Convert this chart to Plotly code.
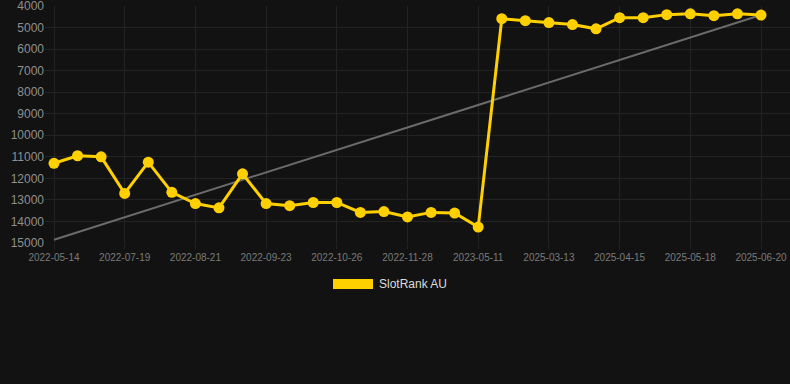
import plotly.graph_objects as go

# ---- data ----
tick_labels = ["2022-05-14", "2022-07-19", "2022-08-21", "2022-09-23", "2022-10-26",
               "2022-11-28", "2023-05-11", "2025-03-13", "2025-04-15", "2025-05-18", "2025-06-20"]
rank_values = [11300, 10950, 11000, 12700, 11250, 12650, 13170, 13370, 11790, 13170,
               13270, 13120, 13120, 13580, 13540, 13790, 13580, 13610, 14260, 4590,
               4680, 4770, 4860, 5060, 4540, 4540, 4400, 4360, 4450, 4360, 4420]
trend_values = [14850, 4420]
y_ticks = [4000, 5000, 6000, 7000, 8000, 9000, 10000, 11000, 12000, 13000, 14000, 15000]
series_name = "SlotRank AU"

x_idx = list(range(len(rank_values)))
tick_idx = x_idx[::3]
trend_x = [x_idx[0], x_idx[-1]]

BG = "#121212"
GRID = "#232323"
GOLD = "#FFD000"

fig = go.Figure()
fig.add_trace(go.Scatter(x=trend_x, y=trend_values, mode="lines",
                         line=dict(color="#6b6b6b", width=2), hoverinfo="skip",
                         showlegend=False))
fig.add_trace(go.Scatter(x=x_idx, y=rank_values, mode="lines+markers", name=series_name,
                         line=dict(color=GOLD, width=3),
                         marker=dict(color=GOLD, size=11), showlegend=False))

# legend (manual, chart-style swatch)
fig.add_shape(type="rect", xref="paper", yref="paper",
              x0=0.3866, x1=0.4403, y0=-0.1519, y1=-0.1941,
              fillcolor=GOLD, line=dict(width=0))
fig.add_annotation(xref="paper", yref="paper", x=0.4456, y=-0.173,
                   text=series_name, showarrow=False, xanchor="left", yanchor="middle",
                   font=dict(size=12, color="#dddddd"))

fig.update_layout(
    width=790, height=384,
    margin=dict(l=45, r=0, t=6, b=141),
    paper_bgcolor=BG, plot_bgcolor=BG,
    font=dict(family="Liberation Sans, Arial, sans-serif"),
    xaxis=dict(range=[-0.382, 31.23], tickmode="array", tickvals=tick_idx, ticktext=tick_labels,
               showgrid=True, gridcolor=GRID, gridwidth=1, zeroline=False, showline=False,
               ticks="outside", ticklen=5, tickcolor=GRID, ticklabeloverflow="allow",
               tickfont=dict(size=10, color="#7a7a7a")),
    yaxis=dict(range=[15000.5, 3999.5], tickmode="array",
               tickvals=y_ticks, ticktext=[str(v) for v in y_ticks],
               showgrid=True, gridcolor=GRID, gridwidth=1, zeroline=False, showline=False,
               ticks="", ticklabeloverflow="allow", tickfont=dict(size=12, color="#8f8f8f")),
)

fig.write_html("out.html")
